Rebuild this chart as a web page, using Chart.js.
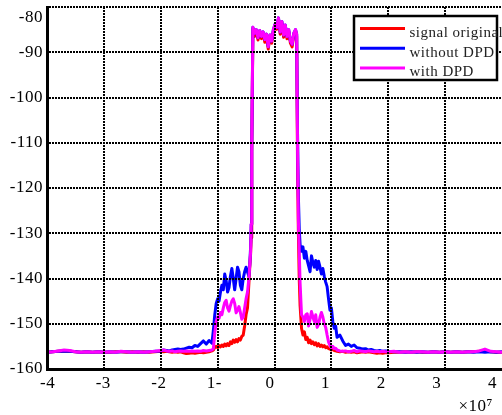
<!DOCTYPE html>
<html>
<head>
<meta charset="utf-8">
<script src="https://cdn.jsdelivr.net/npm/chart.js@4.4.1/dist/chart.umd.min.js"></script>
<style>
html,body{margin:0;padding:0;background:#fff;overflow:hidden}
#wrap{width:502px;height:415px;position:relative}
canvas{display:block}
</style>
</head>
<body>
<div id="wrap"><canvas id="c" width="502" height="415"></canvas></div>
<script>
// Frequency in units of 1e7 Hz
const freqE7 = [
 -4.0,-3.9,-3.8,-3.7,-3.6,-3.5,-3.4,-3.3,-3.2,-3.1,-3.0,-2.9,-2.8,-2.7,-2.6,-2.5,-2.4,-2.3,-2.2,-2.1,-2.0,
 -1.95,-1.9,-1.85,-1.8,-1.75,-1.7,-1.65,-1.6,-1.55,-1.5,-1.45,-1.4,-1.35,-1.3,-1.25,-1.2,-1.15,-1.1,
 -1.075,-1.05,-1.025,-1.0,-0.975,-0.95,-0.925,-0.9,-0.875,-0.85,-0.825,-0.8,-0.775,-0.75,-0.725,-0.7,-0.675,-0.65,-0.625,-0.6,-0.575,-0.55,-0.525,-0.5,-0.475,-0.45,-0.435,-0.42,-0.41,-0.4,
 -0.38,-0.35,-0.32,-0.29,-0.26,-0.23,-0.2,-0.17,-0.14,-0.11,-0.08,-0.05,-0.02,0.01,0.04,0.07,0.1,0.13,0.16,0.19,0.22,0.25,0.28,0.31,0.34,0.37,0.39,
 0.405,0.42,0.435,0.45,0.475,0.5,0.525,0.55,0.575,0.6,0.625,0.65,0.675,0.7,0.725,0.75,0.775,0.8,0.825,0.85,0.875,0.9,0.925,0.95,0.975,1.0,1.025,1.05,1.075,1.1,
 1.15,1.2,1.25,1.3,1.35,1.4,1.45,1.5,1.55,1.6,1.65,1.7,1.75,1.8,1.85,1.9,1.95,
 2.0,2.1,2.2,2.3,2.4,2.5,2.6,2.7,2.8,2.9,3.0,3.1,3.2,3.3,3.4,3.5,3.6,3.7,3.8,3.9,4.0
];

const sigOriginal = [
 -156.3,-156.2,-156.1,-156.0,-156.1,-156.2,-156.3,-156.2,-156.3,-156.2,-156.3,-156.3,-156.2,-156.2,-156.3,-156.2,-156.3,-156.2,-156.3,-156.2,-156.1,
 -156.2,-156.1,-156.2,-156.3,-156.2,-156.3,-156.2,-156.4,-156.6,-156.5,-156.4,-156.5,-156.4,-156.3,-156.4,-156.3,-156.2,-156.0,
 -155.8,-155.2,-155.0,-155.3,-154.8,-155.1,-154.7,-155.0,-154.5,-154.9,-154.4,-154.8,-154.0,-154.4,-153.6,-154.1,-153.5,-154.0,-153.3,-153.6,-152.8,-152.5,-150.5,-148.0,-146.5,-141.0,-137.5,-134.5,-131.0,-112.0,
 -84.8,-86.5,-85.3,-87.3,-85.6,-87.0,-85.8,-87.8,-86.4,-89.3,-86.6,-88.0,-85.4,-84.2,-84.9,-82.8,-86.0,-83.6,-86.7,-84.4,-87.0,-85.4,-88.0,-88.8,-86.2,-85.4,-86.5,
 -115,-130,-140,-146,-151,-152.5,-151.8,-153.5,-153,-154.2,-153.6,-154.4,-154,-154.6,-154.2,-154.9,-154.4,-155,-154.7,-155.1,-154.8,-155.3,-155.1,-155.5,-155.6,-155.8,-155.6,-155.9,-156,-156.1,
 -156.2,-156.1,-156.3,-156.2,-156.3,-156.2,-156.4,-156.3,-156.2,-156.3,-156.2,-156.3,-156.4,-156.5,-156.4,-156.5,-156.4,
 -156.4,-156.3,-156.3,-156.2,-156.3,-156.2,-156.3,-156.3,-156.2,-156.3,-156.2,-156.3,-156.2,-156.3,-156.2,-156.2,-156.1,-155.8,-156.2,-156.3,-156.3
];

const withoutDPD = [
 -156.3,-156.2,-156.1,-156.0,-156.1,-156.2,-156.3,-156.2,-156.3,-156.2,-156.3,-156.2,-156.3,-156.2,-156.2,-156.3,-156.2,-156.3,-156.2,-156.1,-156.0,
 -155.8,-155.9,-156.0,-155.8,-155.7,-155.6,-155.7,-155.6,-155.4,-155.2,-155.3,-154.8,-155.0,-154.4,-153.8,-154.5,-153.7,-154.3,
 -151.5,-148,-145.5,-144.5,-145,-143,-141.5,-142.5,-139,-140.5,-143,-142,-139.5,-137.8,-140,-142.5,-140,-137.5,-138.5,-141.5,-142.5,-140,-138.5,-137.5,-138.5,-139.5,-137,-133,-128,-112,
 -84.5,-85.8,-85.0,-86.8,-85.2,-86.5,-85.5,-87.2,-86.0,-88.8,-86.2,-87.5,-85.0,-83.8,-84.5,-82.4,-85.5,-83.2,-86.2,-84.0,-86.5,-85.0,-87.5,-88.2,-85.8,-85.0,-86.0,
 -108,-122,-129,-132.5,-134,-133,-135.5,-134,-136,-137.2,-138.5,-135,-136.5,-137.5,-136,-138,-136.2,-137.5,-139,-137.8,-139.5,-140.8,-141.8,-144.5,-147,-146.5,-149.5,-151,-150.5,-153,
 -152.5,-153.8,-154.8,-154.5,-155.0,-154.7,-155.3,-155.4,-155.6,-155.5,-155.8,-155.7,-155.9,-156.0,-155.9,-156.1,-156.0,
 -156.1,-156.2,-156.2,-156.3,-156.2,-156.3,-156.2,-156.3,-156.2,-156.3,-156.2,-156.3,-156.2,-156.3,-156.2,-156.3,-156.2,-156.3,-156.2,-156.3,-156.2
];

const withDPD = [
 -156.3,-156.2,-156.0,-155.8,-155.9,-156.2,-156.3,-156.2,-156.3,-156.2,-156.3,-156.2,-156.3,-156.1,-156.2,-156.3,-156.2,-156.3,-156.2,-156.1,-155.9,
 -155.8,-156.0,-156.1,-156.0,-156.2,-156.1,-156.0,-156.1,-156.0,-156.1,-156.0,-156.1,-156.0,-156.1,-155.9,-156.0,-155.9,-155.8,
 -155.5,-152,-149.5,-148.5,-148.8,-147.5,-148,-146.5,-145.3,-144.8,-146.5,-147.2,-146,-145,-144.5,-145.5,-147.6,-147,-146.2,-147.5,-149,-148.5,-146.5,-144.5,-143,-140,-137,-134,-128,-110,
 -84.5,-85.8,-85.0,-86.8,-85.2,-86.5,-85.5,-87.2,-86.0,-88.8,-86.2,-87.5,-85.0,-83.8,-84.5,-82.4,-85.5,-83.2,-86.2,-84.0,-86.5,-85.0,-87.5,-88.2,-85.8,-85.0,-86.0,
 -110,-127,-134,-141,-148,-148.5,-149.5,-148,-147.8,-150.5,-149,-147.3,-148.5,-149.5,-148,-150.8,-150.2,-148.5,-147.5,-148.5,-150,-150.8,-152.5,-154,-154.8,-155.3,-155,-155.5,-155.4,-155.8,
 -156.0,-156.1,-156.0,-156.2,-156.1,-155.9,-156.2,-156.0,-156.1,-156.2,-156.0,-156.1,-156.2,-156.1,-156.2,-156.1,-156.2,
 -156.2,-156.1,-156.3,-156.2,-156.3,-156.2,-156.2,-156.3,-156.2,-156.3,-156.2,-156.3,-156.2,-156.3,-156.2,-156.2,-156.0,-155.6,-156.1,-156.2,-156.3
];

const seriesNames = ['signal original', 'without DPD', 'with DPD'];
const seriesColors = ['#ff0000', '#0000ff', '#ff00ff'];
const xTickLabels = ['-4', '-3', '-2', '1-', '0', '1', '2', '3', '4'];
const yTickLabels = ['-160', '-150', '-140', '-130', '-120', '-110', '-100', '-90', '-80'];
const xExponentLabel = '\u00d710\u2077';

const SERIF = "'Liberation Serif', 'Times New Roman', serif";

const textSpacing = {
  id: 'textSpacing',
  beforeDraw(chart) { chart.ctx.letterSpacing = '0.5px'; }
};

const boxLegend = {
  id: 'boxLegend',
  afterDraw(chart) {
    const ctx = chart.ctx;
    ctx.save();
    ctx.letterSpacing = '0.5px';
    const bx = 354, by = 16, bw = 143, bh = 64;
    ctx.fillStyle = '#ffffff';
    ctx.fillRect(bx, by, bw, bh);
    ctx.lineWidth = 2.5;
    ctx.strokeStyle = '#000000';
    ctx.strokeRect(bx, by, bw, bh);
    ctx.font = '15px ' + SERIF;
    ctx.textAlign = 'left';
    ctx.textBaseline = 'alphabetic';
    chart.data.datasets.forEach((ds, i) => {
      const ly = 28.5 + i * 19.8;
      ctx.strokeStyle = ds.borderColor;
      ctx.lineWidth = 3;
      ctx.beginPath();
      ctx.moveTo(360, ly);
      ctx.lineTo(405, ly);
      ctx.stroke();
      ctx.fillStyle = '#222222';
      ctx.fillText(ds.label, 409.5, ly + 8.3);
    });
    ctx.restore();
  }
};

const toPts = arr => freqE7.map((x, i) => ({ x: x, y: arr[i] }));

const tickFont = { family: SERIF, size: 17 };

new Chart(document.getElementById('c'), {
  type: 'line',
  data: {
    datasets: [
      { label: seriesNames[0], data: toPts(sigOriginal), borderColor: seriesColors[0], order: 3 },
      { label: seriesNames[1], data: toPts(withoutDPD), borderColor: seriesColors[1], order: 2 },
      { label: seriesNames[2], data: toPts(withDPD), borderColor: seriesColors[2], order: 1 }
    ]
  },
  options: {
    responsive: false,
    animation: false,
    devicePixelRatio: 1,
    layout: { padding: { top: 7, left: 0, right: 0, bottom: 0 } },
    elements: {
      point: { radius: 0 },
      line: { borderWidth: 3, tension: 0, fill: false, borderJoinStyle: 'round' }
    },
    plugins: { legend: { display: false }, tooltip: { enabled: false } },
    scales: {
      x: {
        type: 'linear', position: 'bottom', min: -4, max: 4,
        ticks: { display: false, stepSize: 1 },
        grid: {
          color: c => (c.tick && c.tick.value >= 4) ? 'rgba(0,0,0,0)' : '#000000',
          lineWidth: 2, drawTicks: false, z: 1
        },
        border: { display: true, color: '#000000', width: 3, dash: [2, 1], z: 1 },
        afterFit: s => { s.height = 0; s.paddingLeft = 0; s.paddingRight = 0; }
      },
      xLab: {
        type: 'linear', position: 'bottom', min: -4.011, max: 4.173,
        ticks: {
          stepSize: 1, includeBounds: false, autoSkip: false, maxRotation: 0, minRotation: 0,
          padding: 4, color: '#000000', font: tickFont,
          callback: v => xTickLabels[Math.round(v) + 4]
        },
        grid: { display: false, drawTicks: false },
        border: { display: false },
        title: {
          display: true, text: xExponentLabel + '\u2002', align: 'end', color: '#000000',
          font: { family: SERIF, size: 17, lineHeight: 1 }, padding: { top: 0, bottom: 0 }
        },
        afterFit: s => { s.height = 46; s.paddingLeft = 0; s.paddingRight = 0; }
      },
      y: {
        type: 'linear', min: -160, max: -80,
        ticks: {
          stepSize: 10, padding: 4, color: '#000000', font: tickFont,
          callback: v => {
            const lbl = yTickLabels[Math.round((v + 160) / 10)];
            return v === -80 ? ['', lbl] : lbl;
          }
        },
        grid: { color: '#000000', lineWidth: 2, drawTicks: false, z: 1 },
        border: { display: true, color: '#000000', width: 3, dash: [2, 1], z: 1 },
        afterFit: s => { s.width = 47; s.paddingTop = 0; s.paddingBottom = 0; }
      }
    }
  },
  plugins: [textSpacing, boxLegend]
});
</script>
</body>
</html>
